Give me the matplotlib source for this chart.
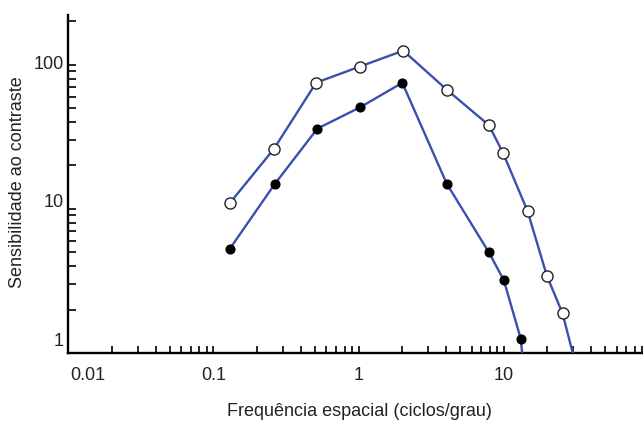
import matplotlib
matplotlib.use("Agg")
import matplotlib.pyplot as plt
import matplotlib.transforms as mtransforms
from matplotlib.ticker import LogLocator, FixedLocator, FixedFormatter, NullFormatter

plt.rcParams['font.family'] = ['Liberation Sans', 'DejaVu Sans']

# --- data ---
freq_open = [0.13, 0.26, 0.51, 1.02, 2.03, 4.05, 7.9, 9.9, 14.6, 19.8, 25.4]
sens_open = [11.0, 25.9, 75, 97, 125, 67, 38, 24.3, 9.6, 3.43, 1.88]
cutoff_open = (30.0, 0.98)

freq_filled = [0.13, 0.265, 0.52, 1.02, 2.0, 4.05, 7.9, 10.0, 13.1]
sens_filled = [5.3, 14.9, 36, 50.5, 74.8, 14.9, 4.98, 3.2, 1.25]
cutoff_filled = (13.4, 0.98)

x_ticks = [0.01, 0.1, 1, 10]
x_tick_labels = ['0.01', '0.1', '1', '10']
y_ticks = [1, 10, 100]
y_tick_labels = ['1', '10', '100']

xlabel = 'Frequência espacial (ciclos/grau)'
ylabel = 'Sensibilidade ao contraste'

# --- figure ---
fig = plt.figure(figsize=(6.43, 4.21), dpi=100)
ax = fig.add_axes([68.3 / 643, (421 - 353) / 421, 1 - 68.3 / 643, 338 / 421])

blue = '#3a50ae'

ax.plot(freq_open + [cutoff_open[0]], sens_open + [cutoff_open[1]], color=blue,
        lw=1.7, marker='o', markersize=8, markerfacecolor='white',
        markeredgecolor='#222222', markeredgewidth=1.0,
        markevery=list(range(len(freq_open))), zorder=3, clip_on=True)
ax.plot(freq_filled + [cutoff_filled[0]], sens_filled + [cutoff_filled[1]], color=blue,
        lw=1.7, marker='o', markersize=6.5, markerfacecolor='black',
        markeredgecolor='black', markeredgewidth=0.8,
        markevery=list(range(len(freq_filled))), zorder=3, clip_on=True)

ax.set_xscale('log')
ax.set_yscale('log')
ax.set_xlim(0.01, 91)
ax.set_ylim(0.999, 221)

ax.xaxis.set_major_locator(FixedLocator(x_ticks))
ax.xaxis.set_major_formatter(FixedFormatter(x_tick_labels))
ax.xaxis.set_minor_locator(LogLocator(base=10, subs=range(2, 10)))
ax.xaxis.set_minor_formatter(NullFormatter())

ax.yaxis.set_major_locator(FixedLocator(y_ticks))
ax.yaxis.set_major_formatter(FixedFormatter(y_tick_labels))
ax.yaxis.set_minor_locator(LogLocator(base=10, subs=range(2, 10)))
ax.yaxis.set_minor_formatter(NullFormatter())

for s in ['top', 'right']:
    ax.spines[s].set_visible(False)
for s in ['left', 'bottom']:
    ax.spines[s].set_linewidth(1.7)
    ax.spines[s].set_color('black')

ax.tick_params(axis='x', which='both', direction='in', length=4.8, width=1.2,
               labelsize=13, pad=10, colors='black')
ax.tick_params(axis='y', which='both', direction='in', length=5.5, width=1.2,
               labelsize=13, pad=3.5, colors='black')
ax.tick_params(axis='x', labelcolor='#222222')
ax.tick_params(axis='y', labelcolor='#222222')

# small label shifts to mimic the reference placement
x_shift = {'0.01': 20}
y_shift = {'1': 13, '10': 8, '100': 2}
fig.canvas.draw()
for lab in ax.get_xticklabels():
    dx = x_shift.get(lab.get_text(), 0)
    if dx:
        lab.set_transform(lab.get_transform() +
                          mtransforms.ScaledTranslation(dx / 100, 0, fig.dpi_scale_trans))
for lab in ax.get_yticklabels():
    dy = y_shift.get(lab.get_text(), 0)
    if dy:
        lab.set_transform(lab.get_transform() +
                          mtransforms.ScaledTranslation(0, dy / 100, fig.dpi_scale_trans))

fig.text(359 / 643, 1 - 411 / 421, xlabel, ha='center', va='center',
         fontsize=13, color='#222222')
fig.text(18 / 643, 1 - 182 / 421, ylabel, ha='center', va='center',
         rotation=90, fontsize=13, color='#222222')

fig.savefig('out.png', dpi=100)
